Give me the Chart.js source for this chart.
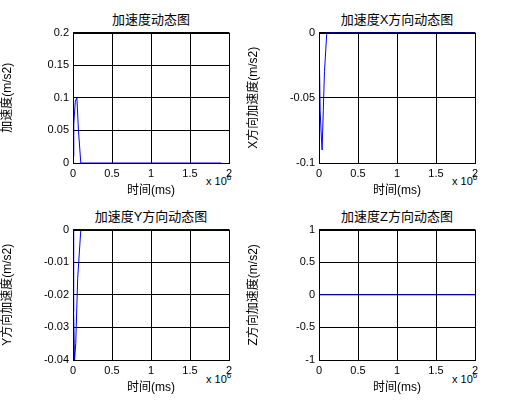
<!DOCTYPE html>
<html><head><meta charset="utf-8">
<script src="https://cdn.jsdelivr.net/npm/chart.js@4"></script>
<style>
body{margin:0;background:#fff;width:531px;height:418px;position:relative;overflow:hidden;font-family:"Liberation Sans",Arial,sans-serif}
canvas{position:absolute}
.t{position:absolute;font-size:13px;text-align:center;width:156px;font-family:"Liberation Sans","Noto Sans CJK SC",sans-serif}
.e{position:absolute;font-size:11px}
.e sup{font-size:8px}
</style></head><body>
<div class="t" style="left:73px;top:9px">加速度动态图</div>
<div class="t" style="left:319px;top:9px">加速度X方向动态图</div>
<div class="t" style="left:73px;top:206px">加速度Y方向动态图</div>
<div class="t" style="left:319px;top:206px">加速度Z方向动态图</div>
<div class="e" style="left:206px;top:173px">x 10<sup>6</sup></div>
<div class="e" style="left:452px;top:173px">x 10<sup>6</sup></div>
<div class="e" style="left:206px;top:371px">x 10<sup>6</sup></div>
<div class="e" style="left:452px;top:371px">x 10<sup>6</sup></div>
<canvas id="c0" width="241" height="176"></canvas><canvas id="c1" width="241" height="176"></canvas>
<canvas id="c2" width="241" height="176"></canvas><canvas id="c3" width="241" height="176"></canvas>
<script>
const xTicks = [0, 0.5, 1, 1.5, 2];
const accX = [0, 10000, 30000, 50000, 70000, 100000, 1900000];
const accY = [0.01, 0.06, 0.095, 0.1, 0.05, 0, 0];
const axX = [0, 5000, 15000, 30000, 40000, 55000, 70000, 100000, 2000000];
const axY = [0, -0.02, -0.06, -0.08, -0.09, -0.06, -0.03, 0, 0];
const ayX = [0, 8000, 20000, 35000, 60000, 100000, 1900000];
const ayY = [0, -0.025, -0.04, -0.035, -0.015, 0, 0];
const azX = [0, 2000000];
const azY = [0, 0];

const panels = [
  {id:'c0', left:0, top:22, xs:accX, ys:accY, min:0, max:0.2, step:0.05, label:'加速度(m/s2)'},
  {id:'c1', left:246, top:22, xs:axX, ys:axY, min:-0.1, max:0, step:0.05, label:'X方向加速度(m/s2)'},
  {id:'c2', left:0, top:219, xs:ayX, ys:ayY, min:-0.04, max:0, step:0.01, label:'Y方向加速度(m/s2)'},
  {id:'c3', left:246, top:219, xs:azX, ys:azY, min:-1, max:1, step:0.5, label:'Z方向加速度(m/s2)'}
];
const font = {family:'"Liberation Sans","Noto Sans CJK SC",sans-serif', size:11};
const grid = {color:'#000', borderDash:[3,3], drawTicks:false};
const border = {color:'#000', width:1};
panels.forEach(p => {
  const cv = document.getElementById(p.id);
  cv.style.left = p.left + 'px'; cv.style.top = p.top + 'px';
  new Chart(cv, {
    type: 'scatter',
    data: {datasets: [{data: p.xs.map((x, i) => ({x, y: p.ys[i]})), showLine: true,
      borderColor: '#0000ff', borderWidth: 1, pointRadius: 0, fill: false}]},
    options: {
      responsive: false, animation: false, devicePixelRatio: 1,
      layout: {padding: {top: 8, right: 12, left: 0, bottom: 0}},
      plugins: {legend: {display: false}, tooltip: {enabled: false}},
      scales: {
        x: {type: 'linear', min: 0, max: 2e6, grid, border,
          afterBuildTicks: s => { s.ticks = xTicks.map(v => ({value: v * 1e6})); },
          afterFit: s => { s.height = 35; },
          ticks: {color: '#000', font, padding: 4, callback: v => String(v / 1e6)},
          title: {display: true, text: '时间(ms)', color: '#000', font: {...font, size: 12}, padding: 0}},
        y: {min: p.min, max: p.max, grid, border,
          afterFit: s => { s.width = 73; },
          ticks: {color: '#000', font, padding: 4, stepSize: p.step,
            callback: v => String(Math.round(v * 1000) / 1000)},
          title: {display: true, text: p.label, color: '#000', font: {...font, size: 12}, padding: 0}}
      }
    },
    plugins: [{id: 'box', afterDraw(c) {
      const a = c.chartArea, g = c.ctx;
      g.save(); g.strokeStyle = '#000'; g.lineWidth = 1;
      g.strokeRect(Math.round(a.left) + 0.5, Math.round(a.top) + 0.5, Math.round(a.width), Math.round(a.height));
      g.restore();
    }}]
  });
});
</script>
</body></html>
